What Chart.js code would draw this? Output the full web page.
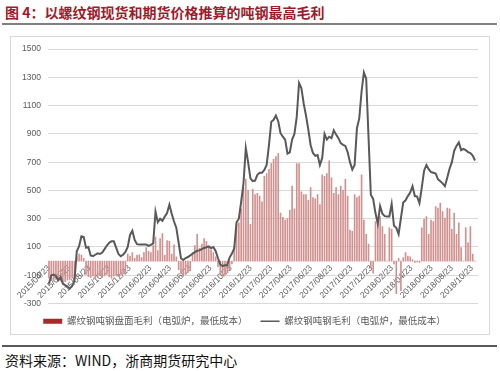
<!DOCTYPE html>
<html>
<head>
<meta charset="utf-8">
<script src="https://cdn.jsdelivr.net/npm/chart.js@4.4.1/dist/chart.umd.min.js"></script>
<style>
  body { margin: 0; background: #fff; }
  #page { position: relative; width: 500px; height: 371px; overflow: hidden; font-family: 'Noto Sans CJK SC', sans-serif; }
  #title { position: absolute; left: 5px; top: 2px; line-height: 20px; font-size: 14px; font-weight: bold; color: #9c1c2c; white-space: nowrap; }
  .rule { position: absolute; left: 2px; width: 495px; }
  #box { position: absolute; left: 10px; top: 36px; width: 478px; height: 297px; border: 1px solid #d9d9d9; }
  #source { position: absolute; left: 5px; top: 350px; line-height: 20px; font-size: 14px; color: #111; white-space: nowrap; }
</style>
</head>
<body>
<div id="page">
  <div id="title">图 4：以螺纹钢现货和期货价格推算的吨钢最高毛利</div>
  <div class="rule" style="top:23px;height:1.5px;background:#808080"></div>
  <div id="box"><canvas id="myChart" width="478" height="297"></canvas></div>
  <div class="rule" style="top:345px;height:2px;background:#595959"></div>
  <div id="source">资料来源：WIND，浙商期货研究中心</div>
</div>
<script>
const tickLabels = [
    '2015/04/23', '2015/06/23', '2015/08/23', '2015/10/23', '2015/12/23',
    '2016/02/23', '2016/04/23', '2016/06/23', '2016/08/23', '2016/10/23', '2016/12/23',
    '2017/02/23', '2017/04/23', '2017/06/23', '2017/08/23', '2017/10/23', '2017/12/23',
    '2018/02/23', '2018/04/23', '2018/06/23', '2018/08/23', '2018/10/23'
]

// weekly observations, first one on 2015/04/23
const firstWeek = '2015/04/23'

const barName = '螺纹钢吨钢盘面毛利（电弧炉，最低成本）'
const lineName = '螺纹钢吨钢毛利（电弧炉，最低成本）'

const futuresMargin = [
    -120, -135, -140, -130, -125, -140, -150, -145, -135, -130, -120, -110,
    30, 50, 45, 20,
    -95, -110, -115, -105, -120, -110, -100, -115, -105, -95, -110, -120, -105, -100, -110, -95, -90, -80,
    50, 35, 60, 20, 40,
    45, 25, 60, 95, 70, 60, 110, 170, 75, 160, 195, 40, 145, 140, 50, 115, 30,
    -60, -90, -100, -95, -80, -70,
    60, 110, 190, 90, 120, 160, 140, 100, 80, 60, 30,
    -40, -90, -110, -100, -80, -60, -20,
    100, 260, 270, 370, 520, 580, 500, 260, 510, 470, 480, 460, 420, 600, 620, 650, 690, 720, 740, 760,
    340, 310, 290, 300, 360, 530, 370, 690, 690, 490, 470, 470, 430, 520, 450, 440, 470, 400, 610, 600,
    620, 710, 590, 480, 520, 470, 530, 500, 580, 460, 220, 210, 470, 450, 460, 610, 290,
    190, 120, -50, -85, 280, 310, 315, 245, 190, 0, 235, 225, -20, -230, 20, -210,
    25, 60, 35, 30, 10, -10, -5, -10,
    235, 295, 315, 190, 290, 280, 385, 375, 410, 350, 305, 375, 370, 225, 340, 190, 270, 95,
    0, 235, 130, 245, 50, 0
]

const spotMargin = [
    -160, -100, -95, -105, -135, -115, -160, -170, -180, -195, -175, -140,
    70, 105, 175, 170, 95, 100, 40, 35, 45, 55, 50, 60,
    85, 110, 130, 140, 140, 95, 50, 35, 45, 65, 100, 185,
    215, 150, 120, 118, 117, 117, 117, 108, 115, 125,
    350, 275, 300, 285, 315, 340, 400, 335, 280, 235, 130, 20,
    8, 22, 29, 40, 52, 63, 73, 76, 85, 93, 98, 104, 92, 99, 70,
    20, -25, -35, -30, -30, 25, 53, 90, 275, 300,
    420, 550, 800, 700, 585, 566, 570, 610, 625, 625, 645, 680, 820, 985, 1000, 1030, 990,
    905, 880, 860, 760, 770, 860, 900, 1020, 1260, 1225, 1115, 1030, 930, 820, 765, 745, 750, 680, 730,
    900, 860, 880, 870, 925, 895, 870, 835, 823, 815, 770, 700, 648, 680, 940, 1010, 1200, 1335,
    1290, 880, 470, 440, 340, 265, 390, 335, 318, 316, 316, 405, 250, 235, 190, 305,
    415, 430, 460, 485, 530, 460, 456, 410, 520, 640, 680, 650, 630, 625, 620, 580, 565, 550, 530,
    590, 654, 700, 780, 815, 840, 785, 794, 785, 771, 765, 747, 712
]

function dayNum(s) {
    const [y, m, d] = s.split('/').map(Number)
    return Date.UTC(y, m - 1, d) / 86400000
}
const day0 = dayNum(firstWeek)
const weekDays = spotMargin.map((_, i) => i * 7)

Chart.defaults.font.family = "'Liberation Sans', 'Noto Sans CJK SC', sans-serif"
Chart.defaults.color = '#595959'

const ctx = document.getElementById('myChart').getContext('2d')

const data = {
    datasets: [{
        type: 'bar',
        label: barName,
        data: futuresMargin.map((v, i) => ({ x: weekDays[i], y: v })),
        backgroundColor: '#d09290',
        barThickness: 1,
        order: 1
    }, {
        type: 'line',
        label: lineName,
        data: spotMargin.map((v, i) => ({ x: weekDays[i], y: v })),
        borderColor: '#595959',
        borderWidth: 2,
        pointRadius: 0,
        tension: 0,
        order: 0
    }]
}

const config = {
    type: 'bar',
    data,
    options: {
        responsive: false,
        animation: false,
        devicePixelRatio: 1,
        layout: { padding: { top: 9, right: 11, bottom: -2, left: 0 } },
        plugins: {
            tooltip: { enabled: false },
            legend: {
                position: 'bottom',
                labels: {
                    usePointStyle: true,
                    pointStyleWidth: 19,
                    boxHeight: 5,
                    padding: 13,
                    color: '#595959',
                    font: { size: 9.5 },
                    sort: (a, b) => a.datasetIndex - b.datasetIndex,
                    generateLabels: chart => {
                        const items = Chart.defaults.plugins.legend.labels.generateLabels(chart)
                        return items.map(it => it.datasetIndex === 0
                            ? { ...it, fillStyle: '#a52a2a', strokeStyle: '#a52a2a', lineWidth: 0, pointStyle: 'rect' }
                            : { ...it, strokeStyle: '#595959', lineWidth: 1.5, pointStyle: 'line' })
                    }
                }
            }
        },
        scales: {
            x: {
                type: 'linear',
                position: { y: 0 },
                min: -3,
                max: 1297,
                offset: false,
                grid: { display: false, drawTicks: false },
                border: { display: false },
                afterBuildTicks: scale => {
                    scale.ticks = tickLabels.map(t => ({ value: dayNum(t) - day0 }))
                },
                ticks: {
                    autoSkip: false,
                    maxRotation: 45,
                    minRotation: 45,
                    padding: 2,
                    color: '#595959',
                    font: { size: 8.5 },
                    callback: (value, index) => tickLabels[index]
                }
            },
            y: {
                min: -300,
                max: 1500,
                grid: { color: '#d9d9d9', drawTicks: false },
                border: { display: false },
                afterFit: scale => { scale.width = 37 },
                ticks: {
                    stepSize: 200,
                    padding: 7,
                    color: '#595959',
                    font: { size: 8.5 },
                    callback: value => String(value)
                }
            }
        }
    }
}

const myChart = new Chart(ctx, config)
</script>
</body>
</html>
